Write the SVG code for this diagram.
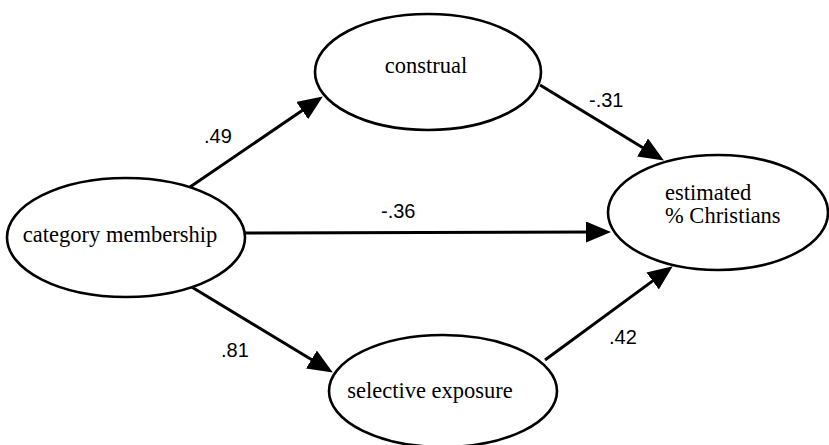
<svg xmlns="http://www.w3.org/2000/svg" width="829" height="445" viewBox="0 0 829 445">
<style>
.node{fill:#fff;stroke:#000;stroke-width:2.6}
.nt{font-family:"Liberation Serif","Times New Roman",serif;font-size:22.5px;fill:#000}
.lbl{font-family:"Liberation Sans",Arial,sans-serif;font-size:20px;fill:#000}
.edge{stroke:#000;stroke-width:3;fill:none}
</style>
<defs>
<marker id="ah" markerUnits="userSpaceOnUse" markerWidth="25" markerHeight="21" refX="12" refY="10.5" orient="auto">
<path d="M0,0 L25,10.5 L0,21 z" fill="#000"/>
</marker>
</defs>
<rect width="829" height="445" fill="#fff"/>
<g id="connectors">
<line class="edge" x1="190" y1="187" x2="312.1" y2="103.8" marker-end="url(#ah)"/>
<line class="edge" x1="190" y1="286" x2="321.7" y2="365.8" marker-end="url(#ah)"/>
<line class="edge" x1="244" y1="233" x2="598" y2="232" marker-end="url(#ah)"/>
<line class="edge" x1="540" y1="85" x2="652.8" y2="153.7" marker-end="url(#ah)"/>
<line class="edge" x1="545" y1="360" x2="662.3" y2="273.9" marker-end="url(#ah)"/>
<text class="lbl" x="204" y="143">.49</text>
<text class="lbl" x="381" y="218">-.36</text>
<text class="lbl" x="589" y="107">-.31</text>
<text class="lbl" x="609" y="344">.42</text>
<text class="lbl" x="221" y="357">.81</text>
</g>
<g id="category">
<ellipse class="node" cx="126" cy="237.5" rx="119" ry="59.5"/>
<text class="nt" x="120" y="242" text-anchor="middle">category membership</text>
</g>
<g id="construal">
<ellipse class="node" cx="428" cy="72" rx="113" ry="58"/>
<text class="nt" x="426" y="73" text-anchor="middle">construal</text>
</g>
<g id="selective">
<ellipse class="node" cx="443" cy="391" rx="114" ry="56"/>
<text class="nt" x="430" y="398" text-anchor="middle">selective exposure</text>
</g>
<g id="estimated">
<ellipse class="node" cx="718" cy="212.5" rx="110" ry="57.5"/>
<text class="nt" x="665" y="200">estimated</text>
<text class="nt" x="665" y="223">% Christians</text>
</g>
</svg>
